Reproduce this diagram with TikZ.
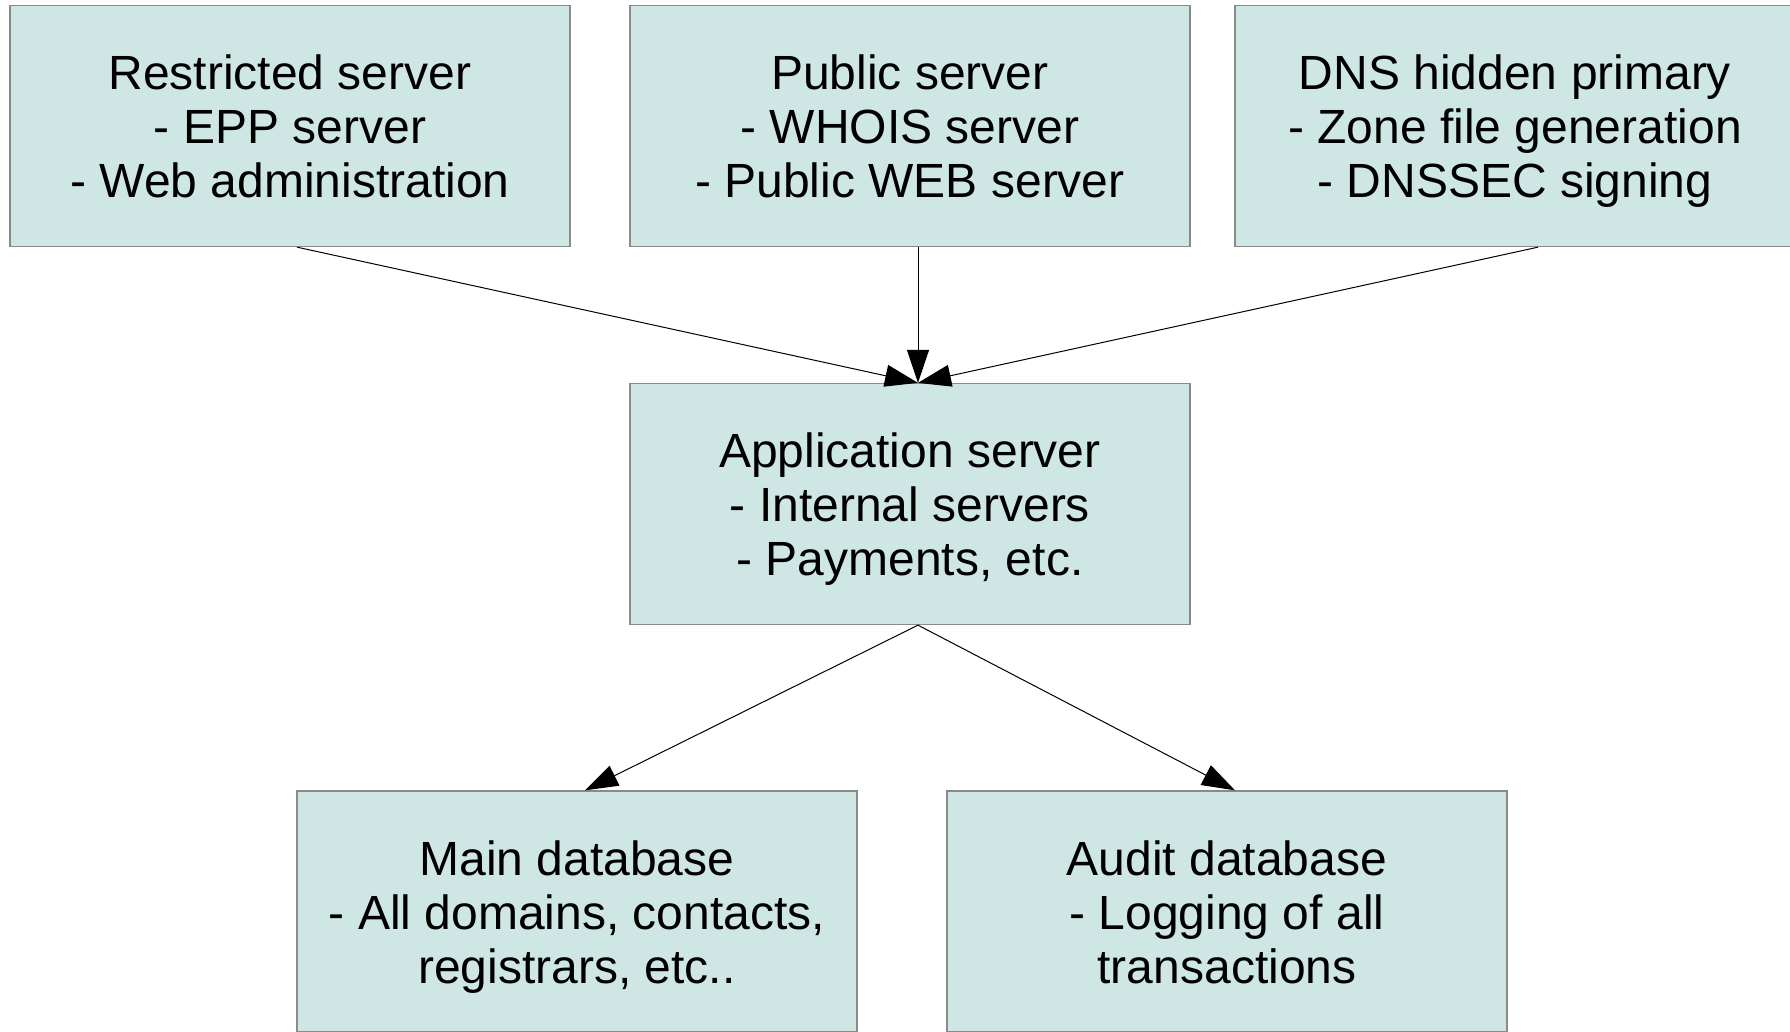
\documentclass[tikz,border=0pt]{standalone}
\usepackage{fontspec}
\setmainfont{Liberation Sans}
\usetikzlibrary{arrows.meta,calc}
\definecolor{boxfill}{HTML}{CFE7E4}
\definecolor{boxline}{HTML}{8A8A8A}
\begin{document}
\begin{tikzpicture}[x=1pt,y=-1pt,
  srv/.style={draw=boxline, line width=1.3pt, fill=boxfill, minimum width=560pt, minimum height=241pt, inner sep=0pt, align=center, font=\fontsize{48}{54}\selectfont, text height=143pt, text depth=0pt},
  conn/.style={draw=black, line width=1pt, -{Triangle[length=33pt,width=22pt]}}]
\useasboundingbox (0,0) rectangle (1790,1031);
\node[srv] (rs) at (290,126) {Restricted server\\- EPP server\\- Web administration};
\node[srv] (ps) at (910,126) {Public server\\- WHOIS server\\- Public WEB server};
\node[srv] (dns) at (1515,126) {DNS hidden primary\\- Zone file generation\\- DNSSEC signing};
\node[srv] (app) at (910,504) {Application server\\- Internal servers\\- Payments, etc.};
\node[srv] (main) at (577,911.5) {Main database\\- All domains, contacts,\\registrars, etc..};
\node[srv] (audit) at (1227,911.5) {Audit database\\- Logging of all\\transactions};
\draw[conn] ($(rs.south)+(7,0)$) -- ($(app.north)+(8,0)$);
\draw[conn] ($(ps.south)+(8,0)$) -- ($(app.north)+(8,0)$);
\draw[conn] ($(dns.south)+(23,0)$) -- ($(app.north)+(8,0)$);
\draw[conn] ($(app.south)+(8,0)$) -- ($(main.north)+(8,0)$);
\draw[conn] ($(app.south)+(8,0)$) -- ($(audit.north)+(8,0)$);
\end{tikzpicture}
\end{document}
